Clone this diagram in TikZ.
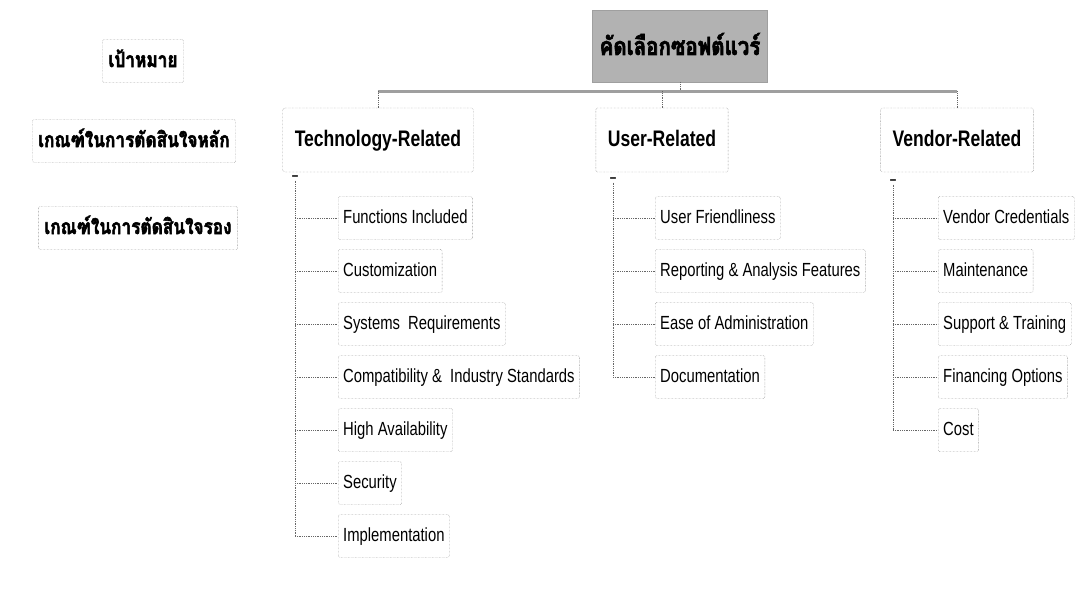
\documentclass[tikz,border=0pt]{standalone}
\usepackage{fontspec}
\setmainfont[FakeStretch=0.78]{Liberation Sans}
\newfontfamily\thaifont[Script=Thai,FakeStretch=0.82,BoldFeatures={FakeBold=2.5}]{Loma}
\usetikzlibrary{positioning}
\tikzset{
item/.style={
  rectangle, draw=gray!80!black, densely dotted, rounded corners=1.5pt,
  inner xsep=5pt, text height=14pt, text depth=4pt, minimum height=43pt,
  anchor=west, font=\fontsize{19}{22}\selectfont
},
group/.style={
  item, anchor=center, inner xsep=12pt, minimum height=64pt,
  text height=17pt, text depth=5pt, font=\fontsize{22.5}{26}\bfseries\selectfont
},
goal/.style={
  item, anchor=center, inner xsep=6pt, text height=18pt, text depth=6pt,
  font=\thaifont\fontsize{21}{24}\bfseries\selectfont
},
root/.style={
  rectangle, fill=gray!60, draw=gray!75, minimum width=175pt, minimum height=72pt,
  font=\thaifont\fontsize{25}{28}\bfseries\selectfont
},
link/.style={draw=gray!80!black, line width=.8pt, densely dotted},
bar/.style={draw=gray!75, line width=3pt},
fold/.style={font=\bfseries\fontsize{15}{15}\selectfont, inner sep=0pt}
}

\begin{document}
\begin{tikzpicture}[x=1pt,y=-1pt]
\useasboundingbox (0,0) rectangle (1092,590);

% goal boxes on the left
\node[goal] (goal-1) at (143,61) {เป้าหมาย};
\node[goal] (goal-2) at (134,141) {เกณฑ์ในการตัดสินใจหลัก};
\node[goal] (goal-3) at (138,228) {เกณฑ์ในการตัดสินใจรอง};

% the root and its three groups
\node[root] (root) at (680,46) {\raisebox{4pt}{คัดเลือกซอฟต์แวร์}};
\node[group] (tech) at (378,140) {Technology-Related};
\node[group] (user) at (662,140) {User-Related};
\node[group] (vend) at (957,140) {Vendor-Related};

\coordinate (hub) at ([yshift=-9pt]root.south);
\draw[link] (root.south) -- (hub);
\draw[bar] (tech.north |- hub) -- (vend.north |- hub);
\foreach \g in {tech,user,vend}
  \draw[link] (\g.north |- hub) -- (\g.north);

% the items of each group
\foreach \name [count=\i] in {Functions Included,Customization,Systems~~Requirements,
    Compatibility \&~~Industry Standards,High Availability,Security,Implementation}
  \node[item] (tech-\i) at (338,{218+53*(\i-1)}) {\name};
\foreach \name [count=\i] in {User Friendliness,Reporting \& Analysis Features,
    Ease of Administration,Documentation}
  \node[item] (user-\i) at (655,{218+53*(\i-1)}) {\name};
\foreach \name [count=\i] in {Vendor Credentials,Maintenance,Support \& Training,
    Financing Options,Cost}
  \node[item] (vend-\i) at (938,{218+53*(\i-1)}) {\name};

% fold markers and the branch lines
\node[fold] (tech-fold) at (295,178) {--};
\node[fold] (user-fold) at (613,180) {--};
\node[fold] (vend-fold) at (893,182) {--};
\draw[link] (tech-fold.south) -- (tech-fold |- tech-7.west);
\draw[link] (user-fold.south) -- (user-fold |- user-4.west);
\draw[link] (vend-fold.south) -- (vend-fold |- vend-5.west);
\foreach \i in {1,...,7}
  \draw[link] (tech-fold |- tech-\i.west) -- (tech-\i.west);
\foreach \i in {1,...,4}
  \draw[link] (user-fold |- user-\i.west) -- (user-\i.west);
\foreach \i in {1,...,5}
  \draw[link] (vend-fold |- vend-\i.west) -- (vend-\i.west);
\end{tikzpicture}
\end{document}
